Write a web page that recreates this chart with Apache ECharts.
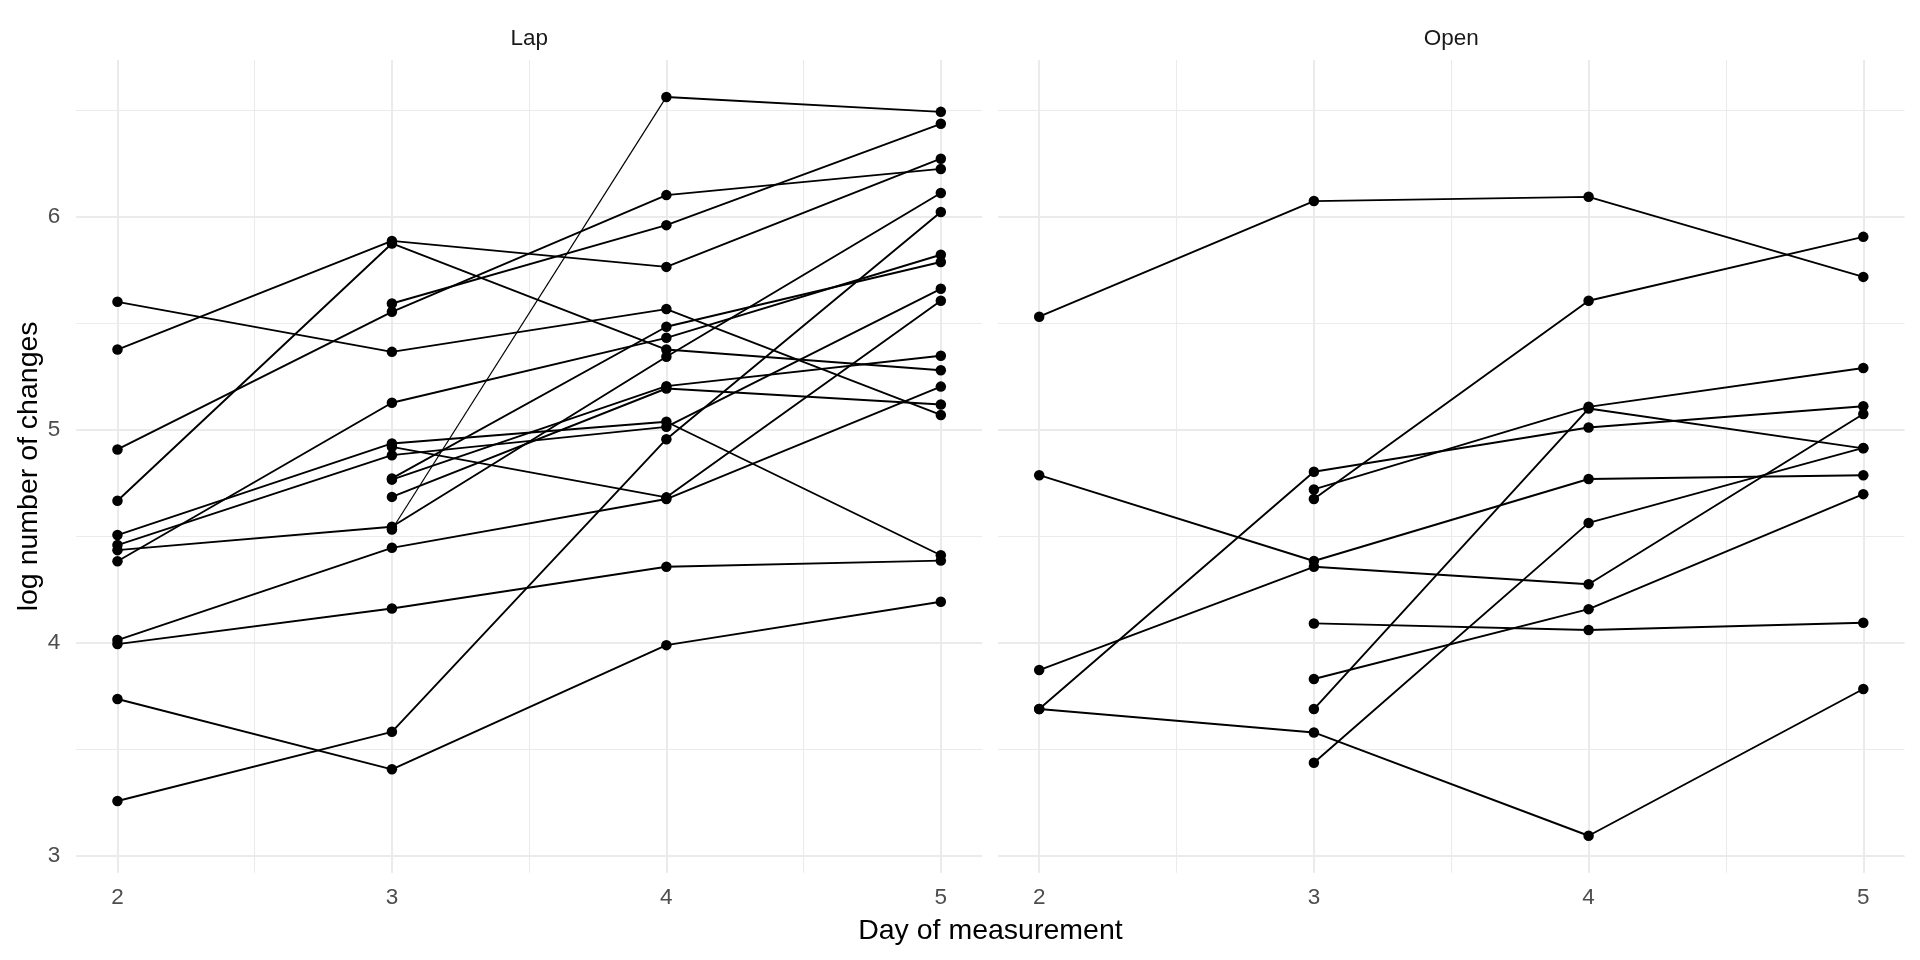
<!DOCTYPE html>
<html><head><meta charset="utf-8">
<script src="https://cdn.jsdelivr.net/npm/echarts@6/dist/echarts.min.js"></script>
<style>html,body{margin:0;padding:0;background:#fff}#chart{width:1920px;height:960px}</style>
</head><body><div id="chart"></div>
<script>
// ---- data ----
const days = [2, 3, 4, 5];
const panelNames = ['Lap', 'Open'];
const yTicks = [3, 4, 5, 6];
const xTicks = [2, 3, 4, 5];
// Lap: one entry per subject (null = not measured that day)
const lapDay2 = [5.601, 5.377, 4.908, 4.667, 4.383, 4.506, 4.459, 4.435, 4.013, 3.994, 3.736, 3.257, null, null, null, null, null, null];
const lapDay3 = [5.366, 5.887, 5.554, 5.875, 5.127, 4.936, 4.881, 4.545, 4.446, 4.161, 3.406, 3.582, 5.593, 4.920, 4.772, 4.766, 4.685, 4.532];
const lapDay4 = [5.567, 5.765, 6.102, 5.377, 5.432, 5.038, 5.014, 5.343, 4.675, 4.357, 3.989, 4.956, 5.961, 4.683, 5.484, 5.205, 5.194, 6.563];
const lapDay5 = [5.070, 6.273, 6.225, 5.280, 5.822, 4.411, 5.662, 6.112, 5.203, 4.386, 4.193, 6.023, 6.437, 5.606, 5.788, 5.348, 5.119, 6.493];
// Open
const openDay2 = [5.531, 4.787, 3.872, 3.689, 3.689, null, null, null, null, null, null];
const openDay3 = [6.074, 4.384, 4.357, 4.803, 3.579, 4.720, 4.675, 4.091, 3.830, 3.689, 3.437];
const openDay4 = [6.094, 4.769, 4.275, 5.011, 3.094, 5.108, 5.606, 4.060, 4.158, 5.100, 4.563];
const openDay5 = [5.718, 4.787, 5.074, 5.111, 3.783, 5.290, 5.906, 4.094, 4.698, 4.913, 4.915];

// ---- styling / layout ----
const FONT = "'Liberation Sans', Arial, sans-serif";
const panelsRows = [[lapDay2, lapDay3, lapDay4, lapDay5], [openDay2, openDay3, openDay4, openDay5]];
const thinSegments = [{ panel: 0, subject: 17, fromDay: 3 }];
const allVals = panelsRows.flat(2).filter(v => v != null);
const yLo = Math.min(...allVals), yHi = Math.max(...allVals);
const yPad = (yHi - yLo) * 0.05;
const yMin = yLo - yPad, yMax = yHi + yPad;
const xPad = (days[days.length - 1] - days[0]) * 0.05;
const xMin = days[0] - xPad, xMax = days[days.length - 1] + xPad;

const grids = [
  { left: 76.3, top: 60, width: 905.7, height: 812.7 },
  { left: 998, top: 60, width: 906.5, height: 812.7 }
];
const GRID = '#EBEBEB';

const xAxes = [], yAxes = [], series = [];
grids.forEach((g, p) => {
  xAxes.push({
    gridIndex: p, type: 'value', min: xMin, max: xMax, splitNumber: 3, position: 'bottom',
    axisLine: { show: false }, axisTick: { show: false },
    axisLabel: { show: true, color: '#4D4D4D', fontSize: 22.5, fontFamily: FONT, margin: 25, verticalAlign: 'middle',
      showMinLabel: false, showMaxLabel: false, formatter: v => xTicks.includes(v) ? String(v) : '' },
    splitLine: { show: true, showMinLine: false, showMaxLine: false, lineStyle: { color: GRID, width: 2 } }
  });
  xAxes.push({
    gridIndex: p, type: 'value', min: xMin, max: xMax, splitNumber: 6, position: 'top',
    axisLine: { show: false }, axisTick: { show: false }, axisLabel: { show: false },
    splitLine: { show: true, showMinLine: false, showMaxLine: false, lineStyle: { color: GRID, width: 1.1 } }
  });
  yAxes.push({
    gridIndex: p, type: 'value', min: yMin, max: yMax, splitNumber: 4, position: 'left',
    axisLine: { show: false }, axisTick: { show: false },
    axisLabel: { show: p === 0, color: '#4D4D4D', fontSize: 22.5, fontFamily: FONT, margin: 16,
      showMinLabel: false, showMaxLabel: false, formatter: v => yTicks.includes(v) ? String(v) : '' },
    splitLine: { show: true, showMinLine: false, showMaxLine: false, lineStyle: { color: GRID, width: 2 } }
  });
  yAxes.push({
    gridIndex: p, type: 'value', min: yMin, max: yMax, splitNumber: 8, position: 'right',
    axisLine: { show: false }, axisTick: { show: false }, axisLabel: { show: false },
    splitLine: { show: true, showMinLine: false, showMaxLine: false, lineStyle: { color: GRID, width: 1.1 } }
  });

  const rows = panelsRows[p];
  const nSub = rows[0].length;
  const pts = [];
  for (let i = 0; i < nSub; i++) {
    const subj = days.map((d, k) => [d, rows[k][i]]).filter(v => v[1] != null);
    subj.forEach(v => pts.push(v));
    let run = [subj[0]], runW = null;
    for (let s = 1; s < subj.length; s++) {
      const thin = thinSegments.some(t => t.panel === p && t.subject === i && t.fromDay === subj[s - 1][0]);
      const w = thin ? 1.2 : 1.9;
      if (runW !== null && w !== runW) {
        series.push(mkLine(p, run, runW));
        run = [subj[s - 1]];
      }
      run.push(subj[s]); runW = w;
    }
    if (run.length > 1) series.push(mkLine(p, run, runW));
  }
  series.push({
    type: 'scatter', xAxisIndex: p * 2, yAxisIndex: p * 2, data: pts, symbol: 'circle', symbolSize: 10.5,
    itemStyle: { color: '#000', opacity: 1 }, z: 5, silent: true, animation: false
  });
});
function mkLine(p, data, w) {
  return { type: 'line', xAxisIndex: p * 2, yAxisIndex: p * 2, data, symbol: 'none', showSymbol: false,
    lineStyle: { color: '#000', width: w, opacity: 1 }, z: 3, silent: true, animation: false };
}

const txt = (text, x, y, size, fill, rot) => ({
  type: 'text', x, y, rotation: rot || 0, silent: true,
  style: { text, fontSize: size, fontFamily: FONT, fill, align: 'center', verticalAlign: 'middle',
    textAlign: 'center', textVerticalAlign: 'middle' }
});

const chart = echarts.init(document.getElementById('chart'), null, { renderer: 'canvas', width: 1920, height: 960 });
chart.setOption({
  backgroundColor: '#fff',
  animation: false,
  grid: grids,
  xAxis: xAxes,
  yAxis: yAxes,
  series,
  graphic: [
    txt(panelNames[0], grids[0].left + grids[0].width / 2, 39, 22.5, '#1A1A1A'),
    txt(panelNames[1], grids[1].left + grids[1].width / 2, 39, 22.5, '#1A1A1A'),
    txt('Day of measurement', (grids[0].left + grids[1].left + grids[1].width) / 2, 931, 28.5, '#000'),
    txt('log number of changes', 29, grids[0].top + grids[0].height / 2, 28.5, '#000', Math.PI / 2)
  ]
});
</script></body></html>
